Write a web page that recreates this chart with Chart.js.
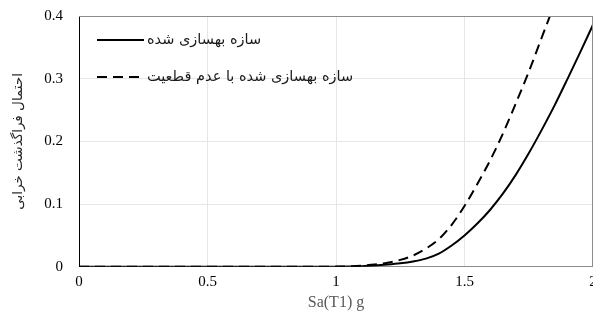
<!DOCTYPE html>
<html>
<head>
<meta charset="utf-8">
<script src="https://cdn.jsdelivr.net/npm/chart.js@4/dist/chart.umd.min.js"></script>
<style>
  html, body { margin: 0; padding: 0; background: #fff; overflow: hidden; }
  #wrap { width: 593px; height: 322px; }
</style>
</head>
<body>
<div id="wrap"><canvas id="fragility"></canvas></div>
<script>
// Sa(T1) values (g) and the two fragility curves
const saValues = [0, 0.1, 0.2, 0.3, 0.4, 0.5, 0.6, 0.7, 0.8, 0.9,
    1.0, 1.05, 1.1, 1.15, 1.2, 1.25, 1.3, 1.35, 1.4, 1.45,
    1.5, 1.55, 1.6, 1.65, 1.7, 1.75, 1.8, 1.85, 1.9, 1.95, 2.0];
const retrofitted = [0, 0, 0, 0, 0, 0, 0, 0, 0, 0,
    0.0002, 0.0005, 0.001, 0.002, 0.0035, 0.0055, 0.0085, 0.013, 0.021, 0.034,
    0.05, 0.069, 0.091, 0.117, 0.147, 0.181, 0.218, 0.257, 0.299, 0.342, 0.386];
const retrofittedUncertain = [0, 0, 0, 0, 0, 0, 0, 0, 0, 0,
    0.0003, 0.0008, 0.0018, 0.0035, 0.0065, 0.011, 0.018, 0.029, 0.044, 0.067,
    0.097, 0.132, 0.170, 0.213, 0.261, 0.311, 0.365, 0.419, 0.473, 0.526, 0.578];
const seriesNames = ['سازه بهسازی شده', 'سازه بهسازی شده با عدم قطعیت'];
const xTicks = [0, 0.5, 1, 1.5, 2];
const yTicks = [0, 0.1, 0.2, 0.3, 0.4];

function toPoints(ys) {
    return saValues.map((x, i) => ({ x: x, y: ys[i] }));
}

// legend inside the plot + gray frame on top/right
const frameAndLegend = {
    id: 'frameAndLegend',
    afterDraw(chart) {
        const ctx = chart.ctx;
        const a = chart.chartArea;
        ctx.save();
        ctx.strokeStyle = '#8c8c8c';
        ctx.lineWidth = 1;
        ctx.beginPath();
        ctx.moveTo(a.left, a.top + 0.5);
        ctx.lineTo(a.right, a.top + 0.5);
        ctx.moveTo(a.right - 0.5, a.top);
        ctx.lineTo(a.right - 0.5, a.bottom);
        ctx.stroke();

        const rows = [40, 77];
        chart.data.datasets.forEach((ds, i) => {
            const y = rows[i];
            ctx.strokeStyle = '#000';
            ctx.lineWidth = 2;
            ctx.setLineDash(ds.borderDash || []);
            ctx.beginPath();
            ctx.moveTo(97, y);
            ctx.lineTo(144, y);
            ctx.stroke();
            ctx.setLineDash([]);
            ctx.fillStyle = '#1a1a1a';
            ctx.font = '14.5px "DejaVu Sans"';
            ctx.textBaseline = 'middle';
            ctx.direction = 'rtl';
            ctx.textAlign = 'right';
            const w = ctx.measureText(ds.label).width;
            ctx.fillText(ds.label, 147 + w, y);
        });
        ctx.restore();
    }
};

new Chart(document.getElementById('fragility'), {
    type: 'line',
    data: {
        datasets: [{
            label: seriesNames[0],
            data: toPoints(retrofitted),
            borderColor: '#000',
            borderWidth: 2,
            pointRadius: 0,
            cubicInterpolationMode: 'monotone'
        }, {
            label: seriesNames[1],
            data: toPoints(retrofittedUncertain),
            borderColor: '#000',
            borderWidth: 2,
            borderDash: [10, 6],
            pointRadius: 0,
            cubicInterpolationMode: 'monotone'
        }]
    },
    options: {
        responsive: true,
        maintainAspectRatio: false,
        animation: false,
        layout: { padding: { top: 16, right: 0, bottom: 10, left: 0 } },
        plugins: { legend: { display: false }, tooltip: { enabled: false } },
        scales: {
            x: {
                type: 'linear',
                min: 0,
                max: 2,
                afterBuildTicks: s => { s.ticks = xTicks.map(v => ({ value: v })); },
                afterFit: s => { s.paddingRight = 0; s.paddingLeft = 0; },
                grid: { color: ctx => (ctx.tick && ctx.tick.value > 0 && ctx.tick.value < 2) ? '#e6e6e6' : 'rgba(0,0,0,0)', drawTicks: false },
                border: { color: '#8c8c8c', width: 1 },
                ticks: {
                    padding: 6,
                    color: '#000',
                    font: { family: '"Liberation Serif"', size: 15 },
                    callback: v => String(v)
                },
                title: {
                    display: true,
                    text: 'Sa(T1) g',
                    color: '#595959',
                    font: { family: '"Liberation Serif"', size: 16 },
                    padding: { top: -4, bottom: 0 }
                }
            },
            y: {
                min: 0,
                max: 0.4,
                afterBuildTicks: s => { s.ticks = yTicks.map(v => ({ value: v })); },
                afterFit: s => { s.width = 79; s.paddingTop = 0; s.paddingBottom = 0; },
                grid: { color: ctx => (ctx.tick && ctx.tick.value > 0 && ctx.tick.value < 0.4) ? '#e6e6e6' : 'rgba(0,0,0,0)', drawTicks: false },
                border: { color: '#000', width: 1 },
                ticks: {
                    padding: 16,
                    color: '#000',
                    font: { family: '"Liberation Serif"', size: 15 },
                    callback: v => String(Math.round(v * 10) / 10)
                },
                title: {
                    display: true,
                    text: 'احتمال فراگذشت خرابی',
                    color: '#262626',
                    font: { family: '"DejaVu Sans"', size: 13.5 },
                    padding: { top: 10, bottom: 0 }
                }
            }
        }
    },
    plugins: [frameAndLegend]
});
</script>
</body>
</html>
